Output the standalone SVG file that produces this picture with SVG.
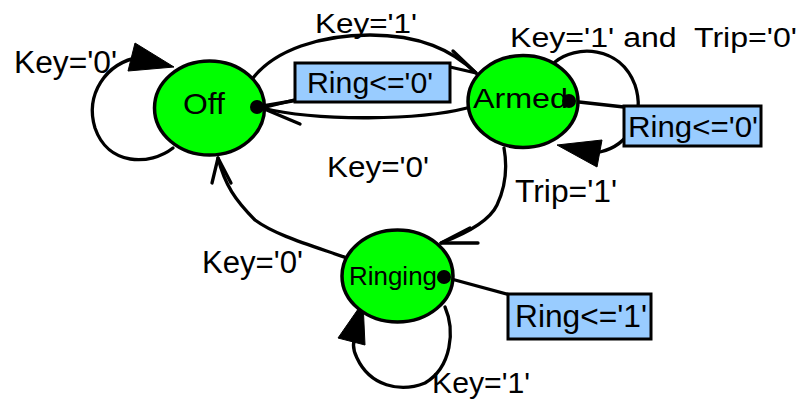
<svg xmlns="http://www.w3.org/2000/svg" width="812" height="403" viewBox="0 0 812 403">
  <style>
    .state { fill: #00ff00; stroke: #000; stroke-width: 3.5; }
    .box { fill: #99ccff; stroke: #000; stroke-width: 3; }
    .wire { fill: none; stroke: #000; stroke-width: 3.3; stroke-linejoin: round; stroke-linecap: round; }
    .head { fill: #000; stroke: #000; stroke-width: 1; stroke-linejoin: miter; }
    .dot { fill: #000; }
    text { font-family: "Liberation Sans", Arial, sans-serif; fill: #000; }
  </style>
  <rect width="812" height="403" fill="#fff"/>

  <!-- transitions -->
  <g id="connectors">
    <!-- Off self-loop, Key='0' -->
    <path class="wire" d="M173,148 C150,166 108,166 95,128 C85,95 105,63 140,57"/>
    <polygon class="head" points="135,43 128,71 174,67"/>
    <!-- Off -> Armed, Key='1' -->
    <path class="wire" d="M253,78 C275,50 320,35 370,35 C420,35 452,50 476,73"/>
    <polyline class="wire" points="453,51 476,73 450,67"/>
    <!-- Armed -> Off, Key='0' -->
    <path class="wire" d="M467,108 C420,120 320,122 262,108"/>
    <polyline class="wire" points="302,98 262,108 300,124"/>
    <!-- Armed self-loop, Key='1' and Trip='0' -->
    <path class="wire" d="M555,62 C575,45 620,45 635,85 C645,115 630,145 600,152"/>
    <polygon class="head" points="557,145 602,140 597,167"/>
    <!-- Armed -> Ringing, Trip='1' -->
    <path class="wire" d="M504,148 C508,170 504,190 497,205 C490,220 470,232 441,243"/>
    <polyline class="wire" points="470,228 441,243 478,243"/>
    <!-- Ringing -> Off, Key='0' -->
    <path class="wire" d="M347,258 C310,245 275,235 255,220 C235,200 225,185 218,158"/>
    <polyline class="wire" points="212,183 218,158 231,183"/>
    <!-- Ringing self-loop, Key='1' -->
    <path class="wire" d="M445,307 C455,330 452,367 425,383 C400,393 370,386 357,358 C352,348 353,340 357,335"/>
    <polygon class="head" points="338,338 363,302 365,345"/>
    <!-- output assignments -->
    <line class="wire" x1="257" y1="107" x2="298" y2="100"/>
    <line class="wire" x1="570" y1="101" x2="624" y2="107"/>
    <line class="wire" x1="444" y1="277" x2="510" y2="295"/>
  </g>

  <!-- states -->
  <g id="off">
    <ellipse class="state" cx="209.5" cy="108" rx="55" ry="47"/>
    <circle class="dot" cx="257" cy="107" r="7"/>
    <text x="183" y="114" font-size="29" textLength="42" lengthAdjust="spacingAndGlyphs">Off</text>
  </g>
  <g id="armed">
    <ellipse class="state" cx="523" cy="101.5" rx="55" ry="46"/>
    <text x="473" y="108" font-size="28" textLength="95" lengthAdjust="spacingAndGlyphs">Armed</text>
    <circle class="dot" cx="569" cy="101" r="7"/>
  </g>
  <g id="ringing">
    <ellipse class="state" cx="397.5" cy="276" rx="55.5" ry="46"/>
    <text x="349" y="285" font-size="26" textLength="88" lengthAdjust="spacingAndGlyphs">Ringing</text>
    <circle class="dot" cx="444" cy="277" r="7"/>
  </g>

  <!-- output boxes -->
  <g id="out-off">
    <rect class="box" x="295" y="63" width="155" height="39"/>
    <text x="307" y="93" font-size="29" textLength="126" lengthAdjust="spacingAndGlyphs">Ring&lt;='0'</text>
  </g>
  <g id="out-armed">
    <rect class="box" x="624" y="106" width="137" height="40"/>
    <text x="628" y="136.5" font-size="30" textLength="130" lengthAdjust="spacingAndGlyphs">Ring&lt;='0'</text>
  </g>
  <g id="out-ringing">
    <rect class="box" x="508" y="294" width="143" height="45"/>
    <text x="515" y="326.5" font-size="32" textLength="132" lengthAdjust="spacingAndGlyphs">Ring&lt;='1'</text>
  </g>

  <!-- transition labels -->
  <g id="labels">
    <text x="14" y="73" font-size="31" textLength="103" lengthAdjust="spacingAndGlyphs">Key='0'</text>
    <text x="315" y="33" font-size="28" textLength="102" lengthAdjust="spacingAndGlyphs">Key='1'</text>
    <text x="510" y="46.5" font-size="27" textLength="287" lengthAdjust="spacingAndGlyphs" xml:space="preserve">Key='1' and  Trip='0'</text>
    <text x="327" y="176.5" font-size="30" textLength="102" lengthAdjust="spacingAndGlyphs">Key='0'</text>
    <text x="515" y="201.5" font-size="31" textLength="102" lengthAdjust="spacingAndGlyphs">Trip='1'</text>
    <text x="202" y="272.5" font-size="31" textLength="101" lengthAdjust="spacingAndGlyphs">Key='0'</text>
    <text x="432" y="393" font-size="30" textLength="98" lengthAdjust="spacingAndGlyphs">Key='1'</text>
  </g>
</svg>
